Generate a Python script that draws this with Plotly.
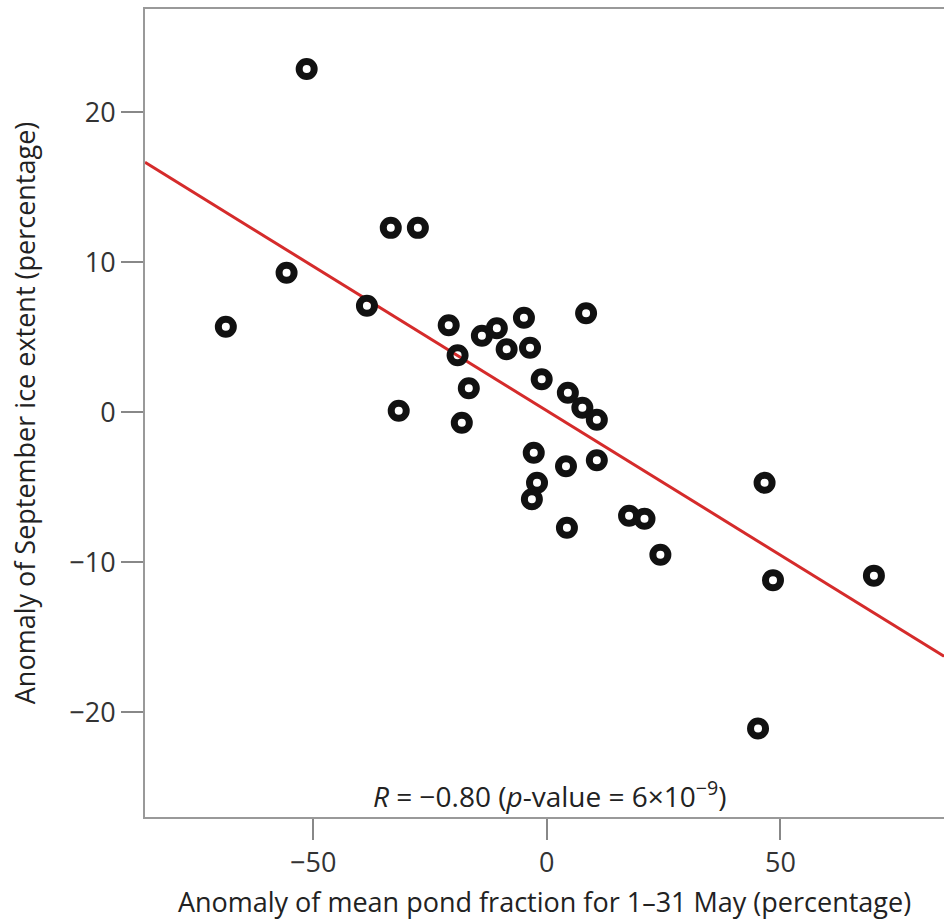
import plotly.graph_objects as go

# Scatter data (anomaly of mean pond fraction, anomaly of September ice extent)
pond_anomaly = [-51.4, -68.7, -55.7, -33.4, -27.6, -38.5, -31.7, -21.0, -19.1, -16.7,
                -18.2, -13.9, -10.7, -8.6, -4.9, -3.6, -1.1, -2.8, -2.1, -3.2,
                4.5, 7.6, 10.7, 8.4, 4.1, 10.7, 4.3, 17.6, 20.9, 24.3,
                46.6, 48.4, 70.0, 45.2]
ice_anomaly = [22.9, 5.7, 9.3, 12.3, 12.3, 7.1, 0.1, 5.8, 3.8, 1.6,
               -0.7, 5.1, 5.6, 4.2, 6.3, 4.3, 2.2, -2.7, -4.7, -5.8,
               1.3, 0.3, -0.5, 6.6, -3.6, -3.2, -7.7, -6.9, -7.1, -9.5,
               -4.7, -11.2, -10.9, -21.1]

# Regression line endpoints
fit_x = [-86, 85]
fit_y = [16.67, -16.27]

x_ticks = [-50, 0, 50]
y_ticks = [-20, -10, 0, 10, 20]

font_family = "Open Sans, Noto Sans, DejaVu Sans, sans-serif"

fig = go.Figure()
fig.add_trace(go.Scatter(
    x=fit_x, y=fit_y, mode="lines",
    line=dict(color="#d52b2b", width=3),
    showlegend=False, hoverinfo="skip"))
fig.add_trace(go.Scatter(
    x=pond_anomaly, y=ice_anomaly, mode="markers",
    marker=dict(symbol="circle-open", size=15, color="#111111",
                line=dict(width=7, color="#111111")),
    showlegend=False))

fig.add_annotation(
    x=0.7, y=-25.5, xref="x", yref="y",
    text="<i>R</i> = \u22120.80 (<i>p</i>-value = 6\u00d710<sup>\u22129</sup>)",
    showarrow=False, font=dict(family=font_family, size=28, color="#222222"),
    xanchor="center", yanchor="middle")

fig.update_layout(
    width=944, height=922,
    margin=dict(l=145, r=0, t=9, b=105),
    paper_bgcolor="white", plot_bgcolor="white",
    font=dict(family=font_family, size=27, color="#333333"),
    xaxis=dict(
        range=[-86, 85], tickvals=x_ticks,
        ticktext=["\u221250", "0", "50"],
        showgrid=False, zeroline=False,
        showline=True, mirror=True, linecolor="#999999", linewidth=2,
        ticks="outside", ticklen=21, tickwidth=1.5, tickcolor="#888888",
        tickfont=dict(size=27, color="#333333"),
        title=dict(text="Anomaly of mean pond fraction for 1\u201331 May (percentage)",
                   font=dict(size=27, color="#222222"), standoff=14),
    ),
    yaxis=dict(
        range=[-27, 26.9], tickvals=y_ticks,
        ticktext=["\u221220", "\u221210", "0", "10", "20"],
        showgrid=False, zeroline=False,
        showline=True, mirror=False, linecolor="#999999", linewidth=2,
        ticks="outside", ticklen=22, tickwidth=1.5, tickcolor="#888888",
        tickfont=dict(size=27, color="#333333"),
        title=dict(text="Anomaly of September ice extent (percentage)",
                   font=dict(size=27, color="#222222"), standoff=26),
    ),
)

fig.write_html("out.html", config={"displayModeBar": False},
               post_script="document.body.style.margin='0';")
